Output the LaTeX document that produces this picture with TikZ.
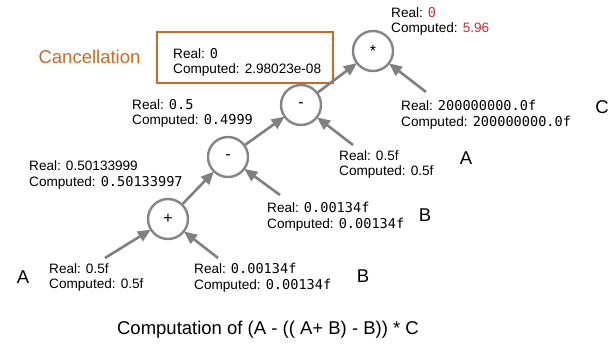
\documentclass[tikz,border=0pt]{standalone}
\usepackage{fontspec}
\setmainfont{Liberation Sans}
\setmonofont{DejaVu Sans Mono}
\usetikzlibrary{arrows.meta}
\definecolor{opgray}{RGB}{133,133,133}
\definecolor{arrgray}{RGB}{128,128,128}
\definecolor{cancel}{RGB}{204,106,34}
\definecolor{errred}{RGB}{212,42,48}
\tikzset{
  opnode/.style={circle, draw=opgray, line width=2.4pt, minimum size=40pt, inner sep=0pt,
    font=\fontsize{16}{18}\selectfont},
  vallabel/.style={anchor=west, align=left, inner sep=0pt,
    font=\fontsize{13.6}{15.6}\selectfont},
  varname/.style={inner sep=0pt, font=\fontsize{18.5}{20}\selectfont},
  flow/.style={draw=arrgray, line width=2.6pt,
    -{Triangle[length=13pt,width=11pt]}, shorten >=-1pt}
}
\begin{document}
\begin{tikzpicture}[x=1pt, y=-1pt]
  \useasboundingbox (0,0) rectangle (613,350);

  % operator nodes of the expression tree
  \node[opnode] (mul)  at (373,51)  {*};
  \node[opnode] (sub1) at (301,105) {-};
  \node[opnode] (sub2) at (228,157) {-};
  \node[opnode] (add)  at (168,219) {+};

  % free ends of the input arrows
  \coordinate (tC)  at (426,92);
  \coordinate (tA2) at (353,145);
  \coordinate (tB2) at (280,195);
  \coordinate (tA1) at (105,258);
  \coordinate (tB1) at (218,258);

  % values attached to each node
  \node[vallabel] (vmul) at (391,21.5)
    {Real: \texttt{\textcolor{errred}{0}}\\Computed: \textcolor{errred}{5.96}};
  \node[draw=cancel, line width=1.2pt, minimum width=176pt, minimum height=51pt,
        inner sep=0pt] (cbox) at (245,57.5) {};
  \node[vallabel] (vsub1) at (173,62.5)
    {Real: \texttt{0}\\Computed: 2.98023e-08};
  \node[text=cancel, varname] (ctitle) at (89.5,57) {Cancellation};
  \node[vallabel] (vsub1b) at (132,113.5)
    {Real: \texttt{0.5}\\Computed: \texttt{0.4999}};
  \node[vallabel] (vC) at (401,114.5)
    {Real: \texttt{200000000.0f}\\Computed: \texttt{200000000.0f}};
  \node[varname] (nC) at (602,107) {C};
  \node[vallabel] (vA2) at (339,164.5)
    {Real: 0.5f\\Computed: 0.5f};
  \node[varname] (nA2) at (466,158) {A};
  \node[vallabel] (vadd) at (29,175)
    {Real: 0.50133999\\Computed: \texttt{0.50133997}};
  \node[vallabel] (vB2) at (267,217)
    {Real: \texttt{0.00134f}\\Computed: \texttt{0.00134f}};
  \node[varname] (nB2) at (425,215) {B};
  \node[varname] (nA1) at (23,277) {A};
  \node[vallabel] (vA1) at (49,277.5)
    {Real: 0.5f\\Computed: 0.5f};
  \node[vallabel] (vB1) at (194,277.5)
    {Real: \texttt{0.00134f}\\Computed: \texttt{0.00134f}};
  \node[varname] (nB1) at (363,276) {B};

  % caption
  \node[varname] (caption) at (268,330) {Computation of (A - (( A+ B) - B)) * C};

  % data flow
  \draw[flow] (sub1) -- (mul);
  \draw[flow] (tC) -- (mul);
  \draw[flow] (sub2) -- (sub1);
  \draw[flow] (tA2) -- (sub1);
  \draw[flow] (add) -- (sub2);
  \draw[flow] (tB2) -- (sub2);
  \draw[flow] (tA1) -- (add);
  \draw[flow] (tB1) -- (add);
\end{tikzpicture}
\end{document}
